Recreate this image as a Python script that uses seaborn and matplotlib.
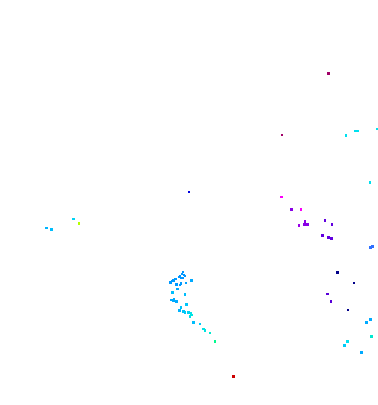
import matplotlib
matplotlib.use("Agg")
import matplotlib.pyplot as plt
from matplotlib.colors import LinearSegmentedColormap
import seaborn as sns
import pandas as pd

# horizontal position of each point
x = [180, 182, 183, 184, 181, 179, 183, 185,
     170.7, 172, 173, 175.7, 174,
     191.7, 176.7, 180, 181, 186, 177.3, 172.7, 185,
     171.7, 173.5, 175, 176.7, 174, 186.7,
     181, 179.3, 183.3, 185, 188.3, 191, 191.7, 190,
     193.3, 200, 203.3, 205, 210, 215,
     189, 233.7, 46.7, 51.7, 73.3, 79,
     328.3, 282, 346, 355, 357.7, 377.3, 370,
     281.3, 291.3, 301, 305, 304.3, 307.3, 299,
     325, 332, 322.3, 328.3, 331.3, 372.7, 370.7,
     337.3, 354, 327.3, 331, 348,
     370.7, 366.7, 371.3, 347.3, 344.7, 361.3]
# vertical position of each point (grows downward)
y = [277, 275, 273, 276, 279, 278, 279, 277,
     283.3, 282, 281, 280, 282,
     281.7, 285.7, 286, 284.7, 284, 290, 293.3, 295.7,
     301, 301.5, 302, 302.7, 300.7, 305.7,
     308.3, 311.7, 312.3, 313.3, 313.3, 314, 316, 317.3,
     323.3, 325, 330, 331.7, 334, 342.7,
     193, 377.7, 229, 230.7, 220, 224.3,
     74.7, 136, 136.7, 132, 132, 130, 183.3,
     198, 210.7, 210.7, 222.7, 225.7, 225.7, 226.7,
     221.7, 225.7, 236.3, 238.7, 239.3, 247.7, 248.7,
     273.3, 284, 295, 302.7, 311,
     320.7, 323.3, 337.3, 342.3, 346.7, 353.3]
# colour value of each point
value = [0.46, 0.46, 0.46, 0.46, 0.46, 0.46, 0.46, 0.46,
         0.45, 0.45, 0.45, 0.45, 0.45,
         0.42, 0.45, 0.45, 0.45, 0.44, 0.42, 0.38, 0.38,
         0.42, 0.42, 0.42, 0.42, 0.42, 0.36,
         0.37, 0.40, 0.36, 0.35, 0.33, 0.28, 0.25, 0.28,
         0.38, 0.35, 0.26, 0.25, 0.20, 0.12,
         0.60, 1.00, 0.40, 0.38, 0.33, 0.00,
         0.94, 0.94, 0.30, 0.30, 0.30, 0.30, 0.30,
         0.88, 0.80, 0.88, 0.80, 0.80, 0.80, 0.82,
         0.75, 0.75, 0.75, 0.75, 0.75, 0.55, 0.55,
         0.65, 0.65, 0.74, 0.74, 0.65,
         0.42, 0.42, 0.20, 0.30, 0.35, 0.42]

cmap = LinearSegmentedColormap.from_list("pts", [
    (0.00, "#b4ff00"), (0.10, "#00ff80"), (0.20, "#00e8d0"),
    (0.30, "#00e0f0"), (0.40, "#00b4ff"), (0.47, "#0090ff"),
    (0.55, "#3070ff"), (0.60, "#0000e0"), (0.65, "#000088"),
    (0.75, "#6000e0"), (0.82, "#9a00e8"), (0.88, "#ff00ff"),
    (0.94, "#a0006a"), (1.00, "#cc0000")])

df = pd.DataFrame({"x": x, "y": y, "value": value})

sns.set_style("white")
fig = plt.figure(figsize=(3.78, 4.06), dpi=100)
ax = fig.add_axes([0, 0, 1, 1])
sns.scatterplot(data=df, x="x", y="y", hue="value", palette=cmap,
                hue_norm=(0, 1), s=3, marker="s", linewidth=0,
                legend=False, ax=ax)
ax.set_xlim(0, 378)
ax.set_ylim(406, 0)
ax.axis("off")
fig.savefig("out.png", dpi=100)
